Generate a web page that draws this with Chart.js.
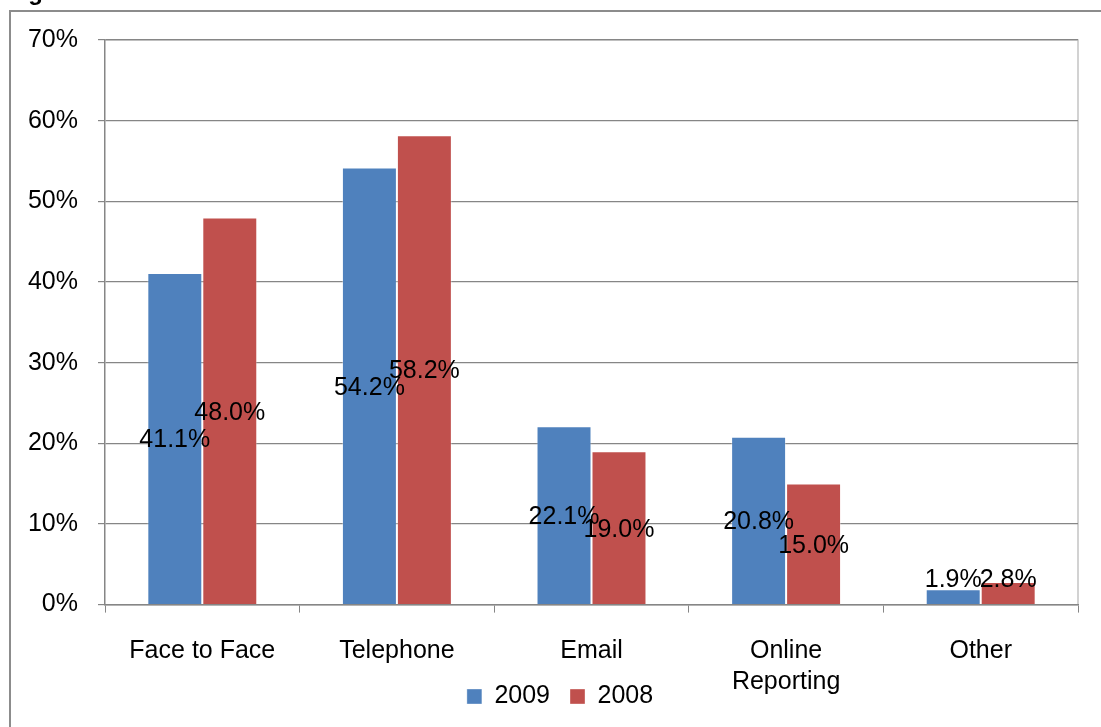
<!DOCTYPE html>
<html>
<head>
<meta charset="utf-8">
<script src="https://cdn.jsdelivr.net/npm/chart.js@4.4.1/dist/chart.umd.min.js"></script>
<style>
    html, body { margin: 0; padding: 0; background: #fff; }
    #wrap { width: 1101px; height: 727px; position: relative; }
</style>
</head>
<body>
<div id="wrap"><canvas id="chart"></canvas></div>
<script>
const categories = ['Face to Face', 'Telephone', 'Email', ['Online', 'Reporting'], 'Other'];
const values2009 = [41.1, 54.2, 22.1, 20.8, 1.9];
const values2008 = [48.0, 58.2, 19.0, 15.0, 2.8];
const yTicks = [0, 10, 20, 30, 40, 50, 60, 70];

const FONT = 'Liberation Sans, Arial, sans-serif';
const AXIS_GREY = '#868686';

// white page, outer frame and the caption above it
const framePlugin = {
    id: 'frame',
    afterLayout(chart) {
        // let the category labels run below the axis box, and park the legend
        chart.scales.x.bottom = chart.height;
        const lg = chart.legend;
        const h = lg.bottom - lg.top;
        lg.top = 664;
        lg.bottom = 664 + h;
        lg.left += 16;
        lg.right += 16;
    },
    beforeDraw(chart) {
        const ctx = chart.ctx;
        ctx.save();
        ctx.fillStyle = '#fff';
        ctx.fillRect(0, 0, chart.width, chart.height);
        ctx.strokeStyle = '#8c8c8c';
        ctx.lineWidth = 2;
        ctx.beginPath();
        ctx.moveTo(10, chart.height);
        ctx.lineTo(10, 11);
        ctx.lineTo(chart.width, 11);
        ctx.stroke();
        ctx.fillStyle = '#000';
        ctx.font = 'bold 24px ' + FONT;
        ctx.textBaseline = 'alphabetic';
        ctx.fillText('Figure 5', 7, 0);
        // light plot-area border
        const a = chart.chartArea;
        ctx.strokeStyle = '#c4c4c4';
        ctx.lineWidth = 1.5;
        ctx.beginPath();
        ctx.moveTo(a.left, a.top);
        ctx.lineTo(a.right, a.top);
        ctx.lineTo(a.right, a.bottom);
        ctx.stroke();
        ctx.restore();
    }
};

// value labels in the middle of each bar, kept off the axis for short bars
const valueLabels = {
    id: 'valueLabels',
    afterDatasetsDraw(chart) {
        const ctx = chart.ctx;
        ctx.save();
        ctx.font = '25px ' + FONT;
        ctx.fillStyle = '#000';
        ctx.textAlign = 'center';
        ctx.textBaseline = 'middle';
        chart.data.datasets.forEach((ds, i) => {
            chart.getDatasetMeta(i).data.forEach((bar, j) => {
                const mid = (bar.y + bar.base) / 2;
                const y = Math.min(mid + 2, bar.base - 24);
                ctx.fillText(ds.data[j].toFixed(1) + '%', bar.x, y);
            });
        });
        ctx.restore();
    }
};

new Chart(document.getElementById('chart'), {
    type: 'bar',
    data: {
        labels: categories,
        datasets: [
            { label: '2009', data: values2009, backgroundColor: '#4F81BD', borderColor: 'rgba(255,255,255,0.35)', borderWidth: 1 },
            { label: '2008', data: values2008, backgroundColor: '#C0504D', borderColor: 'rgba(255,255,255,0.35)', borderWidth: 1 }
        ]
    },
    options: {
        responsive: true,
        maintainAspectRatio: false,
        animation: false,
        layout: { padding: { left: 10, right: 23, top: 40, bottom: 0 } },
        datasets: { bar: { categoryPercentage: 0.565, barPercentage: 1 } },
        plugins: {
            legend: {
                position: 'bottom',
                labels: {
                    boxWidth: 15,
                    boxHeight: 15,
                    padding: 20,
                    color: '#000',
                    font: { family: FONT, size: 25 }
                }
            },
            tooltip: { enabled: false }
        },
        scales: {
            x: {
                grid: {
                    offset: true,
                    drawOnChartArea: false,
                    tickLength: 8,
                    color: AXIS_GREY
                },
                border: { color: AXIS_GREY, width: 1.5 },
                ticks: {
                    color: '#000',
                    padding: 23,
                    maxRotation: 0,
                    font: { family: FONT, size: 25, lineHeight: 1.24 }
                },
                afterFit(scale) { scale.height = 67.4; }
            },
            y: {
                min: 0,
                max: 70,
                afterBuildTicks(scale) { scale.ticks = yTicks.map(v => ({ value: v })); },
                grid: { color: AXIS_GREY, tickLength: 7, lineWidth: 1.2 },
                border: { color: AXIS_GREY, width: 1.5 },
                ticks: {
                    color: '#000',
                    padding: 20,
                    font: { family: FONT, size: 25 },
                    callback: v => v + '%'
                },
                afterFit(scale) { scale.width = 95; }
            }
        }
    },
    plugins: [framePlugin, valueLabels]
});
</script>
</body>
</html>
